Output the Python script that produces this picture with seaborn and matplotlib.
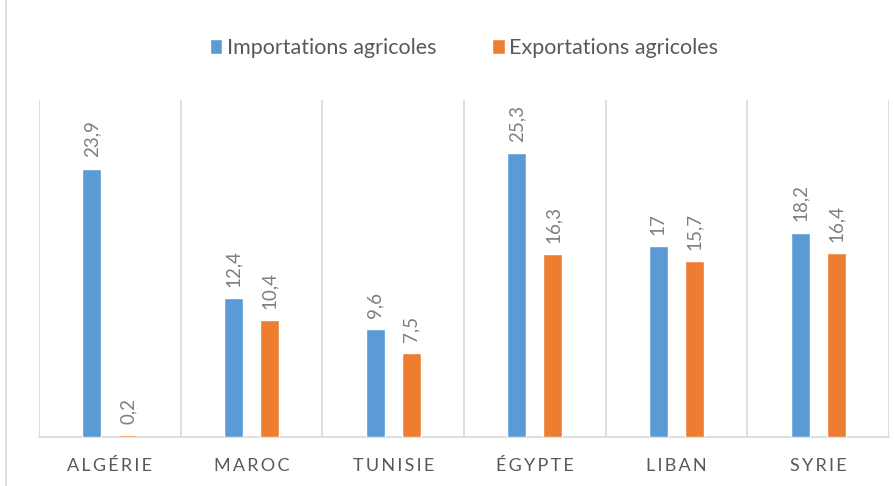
import matplotlib
matplotlib.use("Agg")
import matplotlib.pyplot as plt
import matplotlib.lines as mlines
import pandas as pd
import seaborn as sns

pays = ["ALGÉRIE", "MAROC", "TUNISIE", "ÉGYPTE", "LIBAN", "SYRIE"]
importations = [23.9, 12.4, 9.6, 25.3, 17, 18.2]
exportations = [0.2, 10.4, 7.5, 16.3, 15.7, 16.4]
series = ["Importations agricoles", "Exportations agricoles"]

df = pd.DataFrame({
    "pays": pays * 2,
    "valeur": importations + exportations,
    "serie": [series[0]] * len(pays) + [series[1]] * len(pays),
})

sns.set_style("white")
plt.rcParams["font.family"] = ["Lato", "DejaVu Sans"]

fig = plt.figure(figsize=(8.95, 4.86), dpi=100)
ax = fig.add_axes([39 / 895, 1 - 437 / 486, 850 / 895, 337 / 486])

sns.barplot(data=df, x="pays", y="valeur", hue="serie", hue_order=series,
            palette=["#5B9BD5", "#ED7D31"], width=0.51, gap=0.47,
            saturation=1, ax=ax, legend=True, zorder=3)

ax.set_ylim(0, 30)
ax.set_xlim(-0.5, len(pays) - 0.5)
ax.set_yticks([])
ax.set_xlabel("")
ax.set_ylabel("")
for s in ["top", "left", "right"]:
    ax.spines[s].set_visible(False)
ax.spines["bottom"].set_color("#d9d9d9")
ax.spines["bottom"].set_linewidth(1.2)
ax.spines["bottom"].set_zorder(1)

# vertical separators between categories
for i in range(len(pays) + 1):
    ax.axvline(i - 0.5, color="#d9d9d9", lw=1.2, zorder=0)

# spaced-out capitals like the original
ax.set_xticks(range(len(pays)))
ax.set_xticklabels(["\u2009".join(p) for p in pays])
ax.tick_params(axis="x", length=0, pad=15, labelsize=13, colors="#595959")

# value labels
for cont in ax.containers:
    labels = [f"{v:g}".replace(".", ",") for v in cont.datavalues]
    ax.bar_label(cont, labels=labels, rotation=90, padding=8,
                 fontsize=13.5, color="#7f7f7f")

# legend centred over the plot area, near the top of the figure
leg = ax.legend(loc="center", bbox_to_anchor=(464 / 895, 1 - 48 / 486),
                bbox_transform=fig.transFigure, ncol=2, frameon=False,
                fontsize=15.5, handlelength=0.6, handleheight=0.7,
                handletextpad=0.2, columnspacing=2.6)
for t in leg.get_texts():
    t.set_color("#595959")

# chart border on the left edge
fig.add_artist(mlines.Line2D([6 / 895, 6 / 895], [0, 1], color="#d9d9d9",
                             lw=1.2, transform=fig.transFigure))

fig.savefig("out.png", dpi=100, facecolor="white")
